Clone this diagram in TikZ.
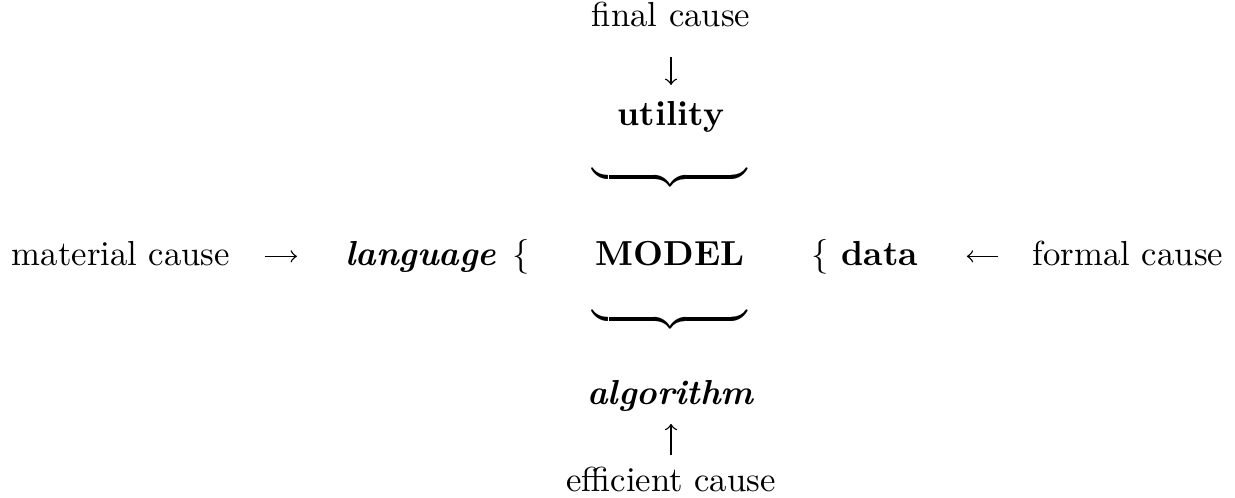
\documentclass[tikz,border=0pt]{standalone}
\usepackage{amsmath}
\begin{document}
\begin{tikzpicture}[x=0.2882pt,y=-0.2882pt,
  txt/.style={inner sep=0pt, outer sep=0pt, anchor=base},
  bracebox/.style={inner sep=0pt, outer sep=0pt, anchor=center},
  cmarrow/.style={-to, line width=0.4pt}]
\useasboundingbox (0,0) rectangle (1235,497);
% top column
\node[txt] (fc) at (671,26) {final cause};
\node[txt] (ut) at (671,125) {\textbf{utility}};
\node[bracebox] (br1) at (670,177) {$\underbrace{\hbox to 44.4pt{}}$};
% main row
\node[txt] (mc) at (121,265) {material cause};
\node[txt] (lang) at (421,265) {\textbf{\textit{language}}};
\node[txt] (lb1) at (521,265) {$\{$};
\node[txt] (model) at (670,265) {\textbf{MODEL}};
\node[txt] (lb2) at (820,265) {$\{$};
\node[txt] (data) at (880,265) {\textbf{data}};
\node[txt] (fo) at (1128,265) {formal cause};
% bottom column
\node[bracebox] (br2) at (670,319) {$\underbrace{\hbox to 44.4pt{}}$};
\node[txt] (alg) at (671,404) {\textbf{\textit{algorithm}}};
\node[txt] (ec) at (671,491) {efficient cause};
% connectors
\draw[cmarrow, shorten <=8.9pt, shorten >=4.6pt] (fc.south) -- (ut.north);
\draw[cmarrow, shorten <=3.2pt, shorten >=3.7pt] (ec.north) -- (alg.south);
\draw[cmarrow, shorten <=10pt, shorten >=14pt] ([yshift=2.5pt]mc.base east) -- ([yshift=2.5pt]lang.base west);
\draw[cmarrow, shorten <=10pt, shorten >=14pt] ([yshift=2.5pt]fo.base west) -- ([yshift=2.5pt]data.base east);
\end{tikzpicture}
\end{document}
